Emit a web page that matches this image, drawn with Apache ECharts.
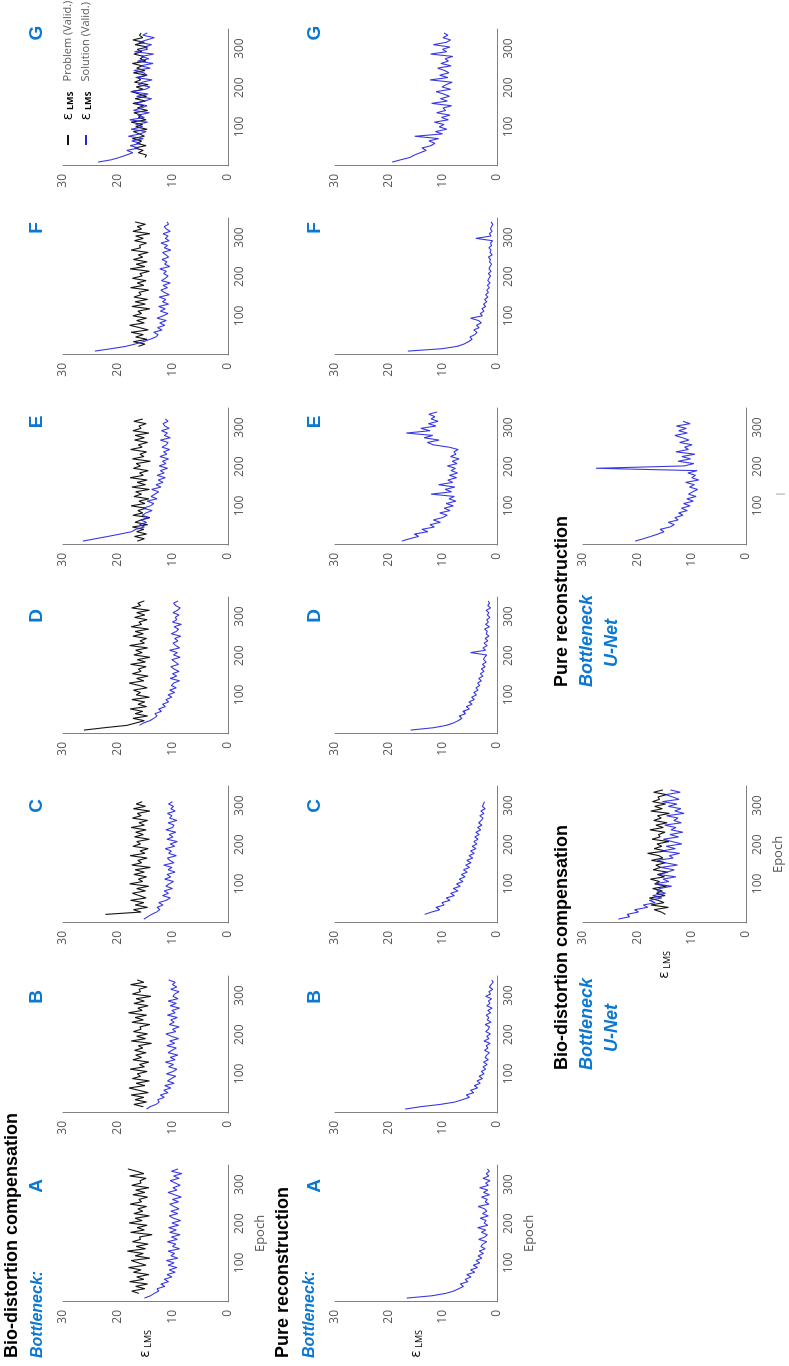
<!DOCTYPE html>
<html>
<head>
<meta charset="utf-8">
<title>Validation error per epoch</title>
<script src="https://cdn.jsdelivr.net/npm/echarts@6/dist/echarts.min.js"></script>
<style>
  html, body { margin: 0; padding: 0; background: #fff; overflow: hidden; width: 789px; height: 1366px; }
  /* the figure is laid out landscape and turned a quarter turn, like the source */
  #container { position: absolute; left: 0; top: 0; width: 1366px; height: 789px;
               transform-origin: 0 0; transform: translate(0px, 1366px) rotate(-90deg); }
</style>
</head>
<body>
<div id="container"></div>
<script>
// ---- data ----
var EPOCHS = [10,16,22,28,34,40,46,52,58,64,70,76,82,88,94,100,106,112,118,124,130,136,142,148,154,160,166,172,178,184,190,196,202,208,214,220,226,232,238,244,250,256,262,268,274,280,286,292,298,304,310,316,322,328,334,340];
var PANEL_LETTERS = ['A', 'B', 'C', 'D', 'E', 'F', 'G'];
var X_TICKS = [100, 200, 300];
var Y_TICKS = [0, 10, 20, 30];

// bio-distortion compensation, bottleneck A..G (problem = black, solution = blue)
var BIO_A_PROB = [null,null,16.2,17.5,15.1,16.8,14.6,17.9,15.3,16.6,14.4,17.2,15.8,18.1,14.9,16.3,17.6,14.2,16.9,15.4,18.3,15.0,16.7,14.5,17.4,15.9,16.1,13.8,17.7,15.2,16.5,14.7,18.0,15.6,16.9,14.3,17.1,15.5,16.4,14.8,17.8,15.7,16.2,14.6,17.3,15.1,16.8,14.4,17.5,15.8,16.0,14.9,17.9,15.3,16.6,18.2];
var BIO_A_SOL  = [15.2,14.1,13.4,12.6,12.9,11.5,12.2,10.8,11.6,10.2,11.1,9.6,10.7,9.3,10.9,9.8,11.2,9.1,10.4,9.7,10.9,8.8,10.1,9.5,11.0,9.2,10.3,8.7,10.6,9.4,10.8,9.0,10.2,8.6,9.9,10.7,9.1,10.4,8.9,9.8,10.6,9.0,10.1,8.5,9.7,10.9,9.3,10.0,8.7,9.6,10.5,8.9,9.9,8.4,10.3,9.1];
var BIO_B_PROB = [null,15.4,17.1,14.8,16.9,15.3,17.6,14.5,16.2,18.0,15.1,16.7,14.3,17.4,15.9,16.5,14.7,17.8,15.2,16.1,14.4,17.3,15.7,16.8,14.9,17.0,15.5,16.3,13.9,17.6,15.0,16.6,14.6,17.2,15.8,16.0,14.2,17.5,15.4,16.9,14.8,18.1,15.6,16.4,14.5,17.1,15.2,16.7,14.0,17.4,15.9,16.2,14.7,17.7,15.3,16.5];
var BIO_B_SOL  = [14.8,14.2,13.1,12.5,12.8,11.6,12.3,10.9,11.7,10.4,11.5,9.8,11.0,10.3,9.5,11.2,10.0,9.3,10.8,9.9,11.4,9.6,10.5,9.1,10.9,10.2,9.4,11.1,9.7,10.6,9.0,10.3,11.3,9.5,10.1,8.9,10.7,9.8,10.4,9.2,11.0,9.6,10.2,8.8,10.5,9.4,10.9,9.1,10.0,9.7,8.9,10.4,9.3,10.1,9.6,10.8];
var BIO_C_PROB = [null,null,22.3,15.8,17.2,14.6,16.9,15.3,17.7,14.9,16.1,17.4,15.0,16.6,14.4,17.9,15.5,16.3,14.8,17.1,15.2,16.9,14.1,17.5,15.7,16.4,14.7,17.8,15.1,16.0,14.5,17.3,15.9,16.6,14.3,17.0,15.4,16.8,14.9,17.6,15.2,16.2,14.6,17.4,15.8,16.5,14.2,17.2,15.0,16.7,15.6];
var BIO_C_SOL  = [15.3,14.6,13.9,13.0,12.4,12.9,11.8,12.6,11.2,10.5,11.9,10.8,11.6,10.1,11.3,10.7,9.9,11.5,10.4,11.1,9.6,10.9,10.2,11.7,9.8,10.6,11.0,9.4,10.8,10.3,11.4,9.7,10.5,9.2,11.1,10.0,10.7,9.5,11.3,10.1,9.8,10.9,9.3,10.6,10.2,11.0,9.6,10.4,9.9,10.8,10.1];
var BIO_D_PROB = [26.2,22.5,18.4,16.8,15.2,17.3,14.6,16.9,15.5,17.8,14.8,16.4,15.1,17.5,14.3,16.7,15.9,17.2,14.7,16.1,18.0,15.3,16.6,14.5,17.4,15.8,16.3,14.9,17.7,15.0,16.5,14.2,17.1,15.6,16.8,14.6,17.9,15.2,16.0,14.8,17.3,15.4,16.9,14.4,17.6,15.7,16.2,14.7,17.0,15.1,16.6,14.3,17.5,15.9,16.4,15.2];
var BIO_D_SOL  = [null,null,16.1,15.4,14.2,13.5,12.9,13.3,12.1,12.6,11.4,11.9,10.8,11.3,10.2,10.9,9.7,10.6,9.4,10.3,9.9,8.8,10.5,9.3,10.1,8.9,9.8,10.4,9.0,9.6,10.2,8.7,9.9,9.2,10.6,8.8,9.5,10.0,9.1,9.7,8.6,10.3,9.4,9.0,9.8,8.5,10.1,9.3,9.6,8.9,10.0,9.2,8.7,9.5,9.9,9.1];
var BIO_E_PROB = [16.5,15.2,17.0,14.8,16.6,15.3,17.4,14.6,16.9,15.8,14.2,17.3,15.5,16.4,14.9,17.6,15.1,16.2,14.4,17.1,15.7,16.8,14.3,17.5,15.0,16.5,14.7,17.8,15.4,16.1,14.5,17.2,15.9,16.7,14.1,17.4,15.3,16.0,14.8,17.7,15.6,16.3,14.6,17.0,15.2,16.9,14.4,17.3,15.8,16.2,14.9,17.1,15.5];
var BIO_E_SOL  = [26.4,24.1,21.8,19.6,17.5,16.8,15.2,16.1,14.8,15.9,14.3,15.6,14.9,13.8,15.4,14.1,13.5,14.7,12.9,14.0,13.3,12.6,13.9,12.2,13.1,11.8,12.7,11.4,12.9,11.6,12.3,11.0,12.5,11.3,11.9,10.8,12.4,11.1,11.7,10.6,12.0,11.2,10.9,12.3,10.5,11.6,11.0,12.1,10.7,11.5,11.8,10.9,11.4];
var BIO_F_PROB = [null,null,16.3,15.1,17.2,14.7,16.8,15.4,17.6,14.5,16.1,17.9,15.2,16.6,14.8,17.3,15.7,16.4,14.2,17.5,15.0,16.9,14.6,17.1,15.8,16.2,14.4,17.7,15.3,16.5,14.9,17.4,15.6,16.0,14.3,17.8,15.1,16.7,14.7,17.2,15.5,16.3,14.5,17.6,15.9,16.1,14.8,17.0,15.4,16.8,14.2,17.3,15.7,16.5,15.0,16.9];
var BIO_F_SOL  = [24.2,21.3,18.6,16.9,15.4,14.2,13.1,12.7,13.5,12.0,12.8,11.5,12.4,11.2,12.9,11.8,10.9,12.3,11.4,12.6,10.8,11.9,11.3,12.5,10.7,11.6,12.2,11.0,11.8,10.5,12.1,11.4,10.9,11.7,11.2,12.4,10.6,11.5,11.1,12.0,10.8,11.3,11.9,10.4,11.6,11.0,12.2,10.7,11.4,10.9,11.8,10.5,11.2,11.6,10.8,11.1];
var BIO_G_PROB = [null,null,15.1,14.8,16.3,15.4,17.0,14.9,16.6,15.7,17.4,15.2,16.1,17.2,14.7,16.8,15.5,17.6,14.9,16.3,15.8,17.1,14.6,16.5,15.3,17.3,15.0,16.9,14.8,16.2,17.5,15.4,16.7,14.5,17.0,15.9,16.4,14.7,17.2,15.1,16.6,15.6,17.4,14.9,16.0,15.3,17.1,15.7,16.5,14.6,16.9,15.2,17.3,15.5,16.1,15.8];
var BIO_G_SOL  = [23.6,21.2,19.7,18.5,17.3,18.4,16.2,17.8,15.9,17.5,15.4,18.1,16.0,14.9,17.6,15.5,16.8,14.6,17.9,15.2,16.4,14.3,17.2,15.8,14.7,16.9,15.1,13.9,16.6,14.5,17.7,15.0,14.2,16.3,15.6,13.8,16.8,14.8,15.3,17.1,14.1,15.9,13.6,16.5,14.4,15.7,13.5,17.0,14.6,15.2,13.9,16.2,14.8,13.4,15.5,14.7];

// pure reconstruction, bottleneck A..G (solution only)
var PURE_A = [16.7,12.0,9.5,8.0,7.1,6.2,6.8,5.4,5.9,4.8,5.6,4.1,4.9,3.6,4.4,3.2,3.9,2.8,3.5,2.5,3.3,2.2,3.0,2.6,1.9,3.4,2.3,1.8,2.9,2.1,3.6,1.7,2.4,2.0,3.1,1.6,2.7,1.9,2.3,3.5,1.5,2.2,1.8,2.9,1.4,2.5,1.7,3.2,1.6,2.1,1.3,2.6,1.5,2.0,1.4,1.8];
var PURE_B = [17.0,14.2,10.5,7.8,6.4,5.1,5.7,4.3,4.9,3.6,4.2,3.1,3.7,2.7,3.3,2.4,2.9,2.1,2.6,1.8,2.5,1.6,2.2,1.9,1.4,2.3,1.7,2.0,1.3,2.4,1.5,1.9,1.2,2.1,1.6,1.4,2.2,1.1,1.8,1.5,2.0,1.2,1.7,0.9,1.9,1.3,1.6,1.0,2.1,1.2,1.5,0.8,1.4,1.1,0.7,1.0];
var PURE_C = [null,null,13.4,12.1,10.6,11.3,9.8,10.2,8.7,9.4,7.9,8.6,7.2,8.1,6.8,7.5,6.3,7.0,5.9,6.6,5.5,6.2,5.1,5.8,4.8,5.6,4.5,5.2,4.2,4.9,3.9,4.6,3.7,4.3,3.5,4.1,3.3,3.9,3.0,3.6,2.8,3.4,2.9,2.6,3.2,2.4,3.0,2.2,2.7,2.5,2.3];
var PURE_D = [16.0,11.8,9.4,8.1,7.2,6.5,7.0,5.8,6.3,5.1,5.7,4.6,5.2,4.2,4.7,3.8,4.3,3.5,3.9,3.2,3.6,2.9,3.4,2.6,3.1,2.4,2.9,2.2,2.7,2.0,2.5,2.3,1.9,4.9,2.1,2.6,1.8,2.4,1.7,2.2,1.5,2.0,1.8,2.3,1.4,2.1,1.6,1.9,1.3,1.8,1.5,2.0,1.2,1.7,1.4,1.6];
var PURE_E = [17.6,16.2,14.5,15.3,12.8,13.9,11.6,12.4,10.5,11.8,10.1,9.2,10.6,8.7,9.8,8.1,9.4,7.6,8.9,7.9,12.2,8.4,9.6,7.8,10.8,8.2,9.1,7.5,8.8,7.3,8.5,7.7,9.2,7.4,8.3,7.0,8.6,7.6,8.0,7.2,8.9,11.8,12.9,10.7,13.5,11.9,16.8,12.4,14.1,11.3,12.7,10.9,12.2,11.5,12.6,11.1];
var PURE_F = [16.5,10.2,7.4,6.1,5.3,4.6,5.0,4.1,3.7,4.3,3.3,3.8,2.9,3.4,4.9,2.7,3.1,2.4,2.8,2.1,2.5,1.9,2.3,1.7,2.1,1.6,1.9,1.4,1.8,1.3,1.7,1.5,1.2,1.6,1.1,1.5,1.3,1.0,1.4,1.2,1.6,0.9,1.3,1.1,1.5,1.0,1.2,0.8,3.9,1.1,1.4,0.9,1.2,1.0,0.8,1.1];
var PURE_G = [19.4,17.8,16.1,15.3,14.2,13.1,13.9,12.2,11.5,12.6,10.8,15.2,10.1,11.4,9.3,10.7,9.8,11.6,9.0,10.3,8.7,11.2,9.5,10.0,8.4,12.1,9.2,10.5,8.8,9.9,11.3,8.6,10.2,9.4,8.3,12.4,9.1,10.6,8.9,9.7,11.0,8.5,10.4,9.0,9.6,8.2,12.3,9.3,10.1,8.7,11.8,9.4,8.6,10.0,9.1,9.8];

// U-Net
var UNET_BIO_PROB = [null,null,14.8,15.6,16.9,14.3,17.5,15.1,16.2,17.8,14.9,16.5,15.4,17.2,14.6,16.8,15.9,17.6,15.0,16.3,14.4,17.1,15.7,16.6,14.8,17.4,15.3,16.0,18.1,14.7,16.9,15.5,16.4,14.2,17.3,15.8,16.1,14.9,17.7,15.2,16.6,14.5,17.0,15.6,16.3,14.1,17.5,15.4,16.8,14.8,17.2,15.9,16.2,14.6,17.0,15.3];
var UNET_BIO_SOL  = [23.5,21.4,21.9,19.8,20.5,18.1,18.9,16.7,17.8,15.5,17.2,14.8,16.4,15.9,13.7,16.8,14.2,15.3,12.9,16.1,14.5,13.2,15.7,12.6,14.9,16.3,13.4,14.1,12.2,15.5,13.0,14.7,11.8,13.6,15.2,12.4,14.0,11.6,13.8,12.9,15.0,11.9,13.3,12.5,14.6,11.4,13.1,12.0,14.3,12.7,15.4,12.3,13.5,14.8,12.1,13.9];
var UNET_PURE_SOL = [20.4,18.9,17.5,16.2,15.1,15.8,14.0,13.2,14.3,12.5,13.1,11.6,12.4,10.8,11.9,10.3,11.5,9.7,10.9,9.2,10.6,9.8,8.9,10.4,9.5,11.1,8.7,10.0,9.3,10.7,9.0,27.6,11.4,9.6,12.5,10.2,11.8,9.4,12.9,10.6,11.3,9.9,12.2,10.5,11.7,13.1,10.8,12.4,11.0,12.8,10.3,11.6];

var BIO_PROB = [BIO_A_PROB, BIO_B_PROB, BIO_C_PROB, BIO_D_PROB, BIO_E_PROB, BIO_F_PROB, BIO_G_PROB];
var BIO_SOL = [BIO_A_SOL, BIO_B_SOL, BIO_C_SOL, BIO_D_SOL, BIO_E_SOL, BIO_F_SOL, BIO_G_SOL];
var PURE_SOL = [PURE_A, PURE_B, PURE_C, PURE_D, PURE_E, PURE_F, PURE_G];

// ---- layout / style ----
var FONT = '"Open Sans", "Liberation Sans", sans-serif';
var HEAD_FONT = '"Liberation Sans", Arial, sans-serif';
var TXT_BLUE = '#0b78d1';
var AXIS_GRAY = '#808080';
var LABEL_GRAY = '#595959';
var PROB_COLOR = '#141414';
var SOL_COLOR = '#2424e0';

var COLS = [64, 253, 443, 632, 821, 1011, 1200];
var LETTER_X = [180, 369, 560, 750, 944, 1138, 1333];
var PLOT_W = 137;

var dom = document.getElementById('container');
var myChart = echarts.init(dom, null, {renderer: 'canvas'});

var grids = [], xAxes = [], yAxes = [], series = [];

function pairs(vals) {
    var out = [];
    for (var i = 0; i < vals.length && i < EPOCHS.length; i++) {
        if (vals[i] != null) out.push([EPOCHS[i], vals[i]]);
    }
    return out;
}

function addPanel(left, top, height, withNames, prob, sol) {
    var idx = grids.length;
    grids.push({left: left, top: top, width: PLOT_W, height: height});
    xAxes.push({
        gridIndex: idx, type: 'value', min: 0, max: 350, interval: 100,
        axisLine: {show: true, onZero: false, lineStyle: {color: AXIS_GRAY, width: 1}},
        axisTick: {show: false}, splitLine: {show: false},
        axisLabel: {margin: 6, color: LABEL_GRAY, fontSize: 12, fontFamily: FONT,
            formatter: function (v) { return X_TICKS.indexOf(v) >= 0 ? String(v) : ''; }},
        name: withNames ? 'Epoch' : '', nameLocation: 'middle', nameGap: 26,
        nameTextStyle: {color: LABEL_GRAY, fontSize: 13, fontFamily: FONT}
    });
    yAxes.push({
        gridIndex: idx, type: 'value', min: 0, max: 30, interval: 10,
        axisLine: {show: true, lineStyle: {color: AXIS_GRAY, width: 1}},
        axisTick: {show: false}, splitLine: {show: false},
        axisLabel: {margin: 8, color: LABEL_GRAY, fontSize: 12, fontFamily: FONT,
            formatter: function (v) { return Y_TICKS.indexOf(v) >= 0 ? String(v) : ''; }},
        name: withNames ? '{e|ε}{s|LMS}' : '', nameLocation: 'middle', nameRotate: 0, nameGap: 28,
        nameTextStyle: {rich: {
            e: {fontSize: 14, color: '#000', fontFamily: FONT},
            s: {fontSize: 9, color: '#000', fontFamily: FONT, padding: [6, 0, 0, 3]}
        }}
    });
    if (prob) {
        series.push({name: 'Problem', type: 'line', xAxisIndex: idx, yAxisIndex: idx,
            showSymbol: false, symbol: 'none', data: pairs(prob),
            itemStyle: {color: PROB_COLOR}, lineStyle: {color: PROB_COLOR, width: 1.1}});
    }
    series.push({name: 'Solution', type: 'line', xAxisIndex: idx, yAxisIndex: idx,
        showSymbol: false, symbol: 'none', data: pairs(sol),
        itemStyle: {color: SOL_COLOR}, lineStyle: {color: SOL_COLOR, width: 1.1, opacity: 0.9}});
}

// row 1: bio-distortion, bottleneck
for (var i = 0; i < 7; i++) addPanel(COLS[i], 63, 165, i === 0, BIO_PROB[i], BIO_SOL[i]);
// row 2: pure reconstruction, bottleneck
for (var j = 0; j < 7; j++) addPanel(COLS[j], 335, 162, j === 0, null, PURE_SOL[j]);
// row 3: U-Net
addPanel(443, 583, 163, true, UNET_BIO_PROB, UNET_BIO_SOL);
addPanel(821, 583, 163, false, null, UNET_PURE_SOL);

function txt(text, x, y, font, color, align) {
    return {type: 'text', x: x, y: y, silent: true,
        style: {text: text, font: font, fill: color, align: align || 'left', verticalAlign: 'middle',
                textAlign: align || 'left', textVerticalAlign: 'middle'}};
}

var headFont = 'bold 18px ' + HEAD_FONT;
var subFont = 'italic bold 16px ' + HEAD_FONT;
var sub3Font = 'italic bold 18px ' + HEAD_FONT;
var letterFont = 'bold 19px ' + HEAD_FONT;

var graphics = [
    txt('Bio-distortion compensation', 8, 12, headFont, '#000'),
    txt('Bottleneck:', 8, 38, subFont, TXT_BLUE),
    txt('Pure reconstruction', 8, 283, headFont, '#000'),
    txt('Bottleneck:', 8, 310, subFont, TXT_BLUE),
    txt('Bio-distortion compensation', 296, 562, headFont, '#000'),
    txt('Bottleneck', 296, 587, sub3Font, TXT_BLUE),
    txt('U-Net', 314, 612, sub3Font, TXT_BLUE),
    txt('Pure reconstruction', 679, 562, headFont, '#000'),
    txt('Bottleneck', 679, 587, sub3Font, TXT_BLUE),
    txt('U-Net', 699, 612, sub3Font, TXT_BLUE),
    txt('|', 872, 780, '9px ' + FONT, '#777', 'center')
];
PANEL_LETTERS.forEach(function (l, k) {
    graphics.push(txt(l, LETTER_X[k], 37, letterFont, TXT_BLUE, 'center'));
    graphics.push(txt(l, LETTER_X[k], 315, letterFont, TXT_BLUE, 'center'));
});

var option = {
    backgroundColor: '#fff',
    animation: false,
    grid: grids,
    xAxis: xAxes,
    yAxis: yAxes,
    legend: {
        orient: 'vertical', left: 1216, top: 56, itemWidth: 10, itemHeight: 2, itemGap: 4,
        data: [{name: 'Problem', icon: 'rect'}, {name: 'Solution', icon: 'rect'}],
        formatter: function (name) {
            return '{e|ε} {s|LMS}{t|' + name + ' (Valid.)}';
        },
        textStyle: {rich: {
            e: {fontSize: 14, color: '#000', fontFamily: FONT, padding: [0, 0, 0, 10]},
            s: {fontSize: 9, fontWeight: 'bold', color: '#000', fontFamily: FONT, padding: [4, 0, 0, 0]},
            t: {fontSize: 11, color: LABEL_GRAY, fontFamily: FONT, padding: [0, 0, 0, 10]}
        }}
    },
    graphic: graphics,
    series: series
};

if (option && typeof option === "object") {
    myChart.setOption(option, true);
}
</script>
</body>
</html>
